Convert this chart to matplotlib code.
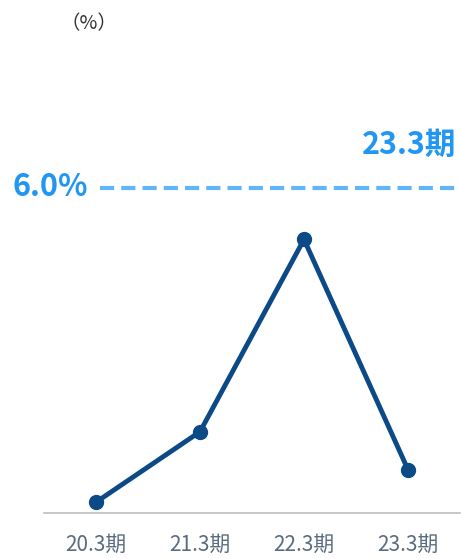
import matplotlib

matplotlib.use("Agg")

import matplotlib.pyplot as plt
import numpy as np

plt.rcParams["font.family"] = ["Noto Sans CJK JP", "DejaVu Sans"]

PERIODS = ["20.3期", "21.3期", "22.3期", "23.3期"]
VALUES = [0.2, 1.5, 5.05, 0.8]
TARGET = 6.0
TARGET_LABEL = "6.0%"
TARGET_PERIOD = "23.3期"
UNIT = "（%）"

LINE_COLOR = "#0b4a86"
TARGET_COLOR = "#62b6f7"
TEXT_BLUE = "#2196f3"
TICK_COLOR = "#5b6b80"

fig = plt.figure(figsize=(4.61, 5.59), dpi=100)
ax = fig.add_axes([44 / 461, 46 / 559, 416 / 461, 513 / 559])

x = np.arange(len(PERIODS))
ax.plot(x, VALUES, color=LINE_COLOR, lw=3.5, marker="o", ms=10, clip_on=False, zorder=3)

# target line runs from the label to the right edge
ax.plot([0.04, 3.5], [TARGET, TARGET], color=TARGET_COLOR, lw=3,
        linestyle=(0, (3.4, 1.7)), clip_on=False)

ax.set_xlim(-0.5, 3.5)
ax.set_ylim(0, 9.47)
ax.set_xticks(x)
ax.set_xticklabels(PERIODS, fontsize=15, color=TICK_COLOR)
ax.tick_params(axis="x", length=0, pad=15)
ax.set_yticks([])

for side in ["top", "right", "left"]:
    ax.spines[side].set_visible(False)
ax.spines["bottom"].set_color("#bdbdbd")
ax.spines["bottom"].set_linewidth(1.2)

fig.text(89 / 461, 1 - 24 / 559, UNIT, fontsize=14, color="#333333", ha="center", va="center")
fig.text(88 / 461, 1 - 187 / 559, TARGET_LABEL, fontsize=22, fontweight="bold",
         color=TEXT_BLUE, ha="right", va="center")
fig.text(456 / 461, 1 - 145 / 559, TARGET_PERIOD, fontsize=22, fontweight="bold",
         color=TEXT_BLUE, ha="right", va="center")

fig.savefig("out.png", dpi=100)
